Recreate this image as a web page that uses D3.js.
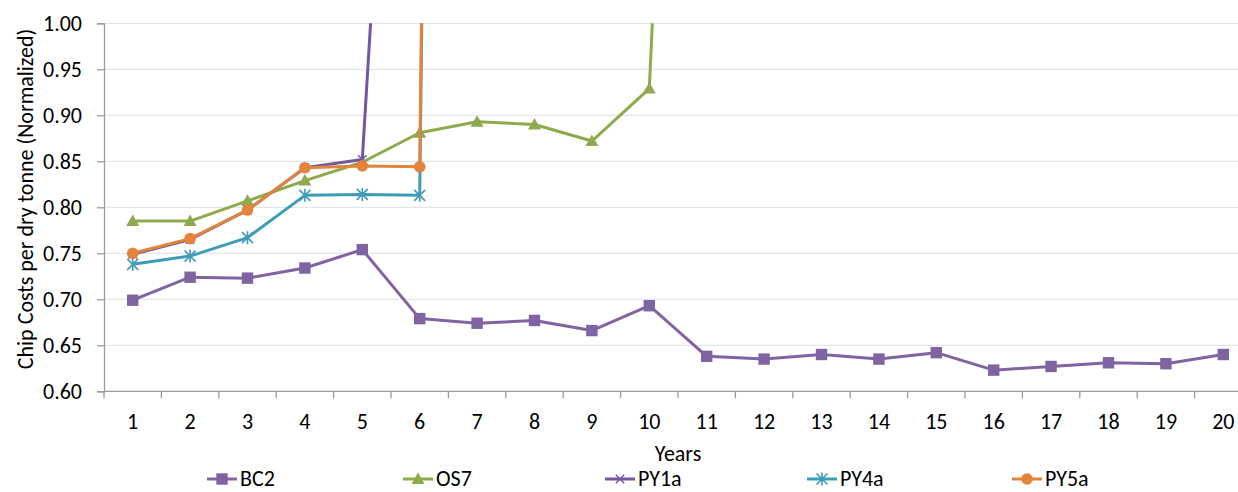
<!DOCTYPE html>
<html>
<head>
<meta charset="utf-8">
<script src="https://cdn.jsdelivr.net/npm/d3@7/dist/d3.min.js"></script>
<style>
  html, body { margin: 0; padding: 0; background: #ffffff; }
  svg { display: block; }
  text { font-family: Calibri, Carlito, "Liberation Sans", Arial, sans-serif; fill: #000; }
</style>
</head>
<body>
<svg id="chart" width="1238" height="492"></svg>
<script>
// Years on the category axis
const years = d3.range(1, 21);

// Normalized chip cost per dry tonne for each scenario (null = no value)
const bc2 = [0.699, 0.724, 0.723, 0.734, 0.754, 0.679, 0.674, 0.677, 0.666, 0.693,
             0.638, 0.635, 0.640, 0.635, 0.642, 0.623, 0.627, 0.631, 0.630, 0.640];
const os7 = [0.785, 0.785, 0.807, 0.829, 0.849, 0.881, 0.893, 0.890, 0.872, 0.929,
             2.27, null, null, null, null, null, null, null, null, null];
const py1a = [0.749, 0.765, 0.797, 0.843, 0.852, 1.88, null, null, null, null,
              null, null, null, null, null, null, null, null, null, null];
const py4a = [0.738, 0.747, 0.767, 0.813, 0.814, 0.813, 6.0, null, null, null,
              null, null, null, null, null, null, null, null, null, null];
const py5a = [0.750, 0.766, 0.797, 0.843, 0.845, 0.844, 6.1, null, null, null,
              null, null, null, null, null, null, null, null, null, null];

const yTicks = [0.60, 0.65, 0.70, 0.75, 0.80, 0.85, 0.90, 0.95, 1.00];

const seriesNames = ["BC2", "OS7", "PY1a", "PY4a", "PY5a"];
const seriesValues = [bc2, os7, py1a, py4a, py5a];
const seriesColors = ["#8064a2", "#8eaa4c", "#7357a0", "#3f9cb6", "#e2843c"];
const seriesMarkers = ["square", "triangle", "cross", "asterisk", "circle"];

const FONT = 22;

// Plot area
const plot = { left: 104, right: 1252, top: 23.3, bottom: 391.3 };

const svg = d3.select("#chart");

const x = d3.scaleBand().domain(years).range([plot.left, plot.right]).padding(0);
const y = d3.scaleLinear().domain([0.60, 1.00]).range([plot.bottom, plot.top]);
const cx = d => x(d) + x.bandwidth() / 2;

// Horizontal gridlines
svg.append("g")
  .selectAll("line")
  .data(yTicks.filter(t => t > 0.6))
  .join("line")
  .attr("x1", plot.left).attr("x2", plot.right)
  .attr("y1", d => y(d)).attr("y2", d => y(d))
  .attr("stroke", "#dfe6ee").attr("stroke-width", 1.3);

// Y axis
const yAxis = svg.append("g")
  .attr("transform", `translate(${plot.left},0)`)
  .call(d3.axisLeft(y).tickValues(yTicks).tickFormat(d3.format(".2f")).tickSize(7).tickPadding(15));
yAxis.select(".domain").attr("stroke", "#9a9a9a").attr("stroke-width", 1.3);
yAxis.selectAll(".tick line").attr("stroke", "#9a9a9a").attr("stroke-width", 1.3);
yAxis.selectAll(".tick text").attr("font-size", FONT).attr("fill", "#000")
  .attr("font-family", "Calibri, Carlito, 'Liberation Sans', Arial, sans-serif");

// X axis: tick marks sit on the category boundaries
const boundaries = years.map(d => x(d)).concat([plot.right]);
const xAxisG = svg.append("g");
xAxisG.append("line")
  .attr("x1", plot.left).attr("x2", plot.right)
  .attr("y1", plot.bottom).attr("y2", plot.bottom)
  .attr("stroke", "#9a9a9a").attr("stroke-width", 1.3);
xAxisG.selectAll("line.tk")
  .data(boundaries)
  .join("line").attr("class", "tk")
  .attr("x1", d => d).attr("x2", d => d)
  .attr("y1", plot.bottom).attr("y2", plot.bottom + 7)
  .attr("stroke", "#9a9a9a").attr("stroke-width", 1.3);
xAxisG.selectAll("text")
  .data(years)
  .join("text")
  .attr("x", d => cx(d)).attr("y", 428.5)
  .attr("text-anchor", "middle")
  .attr("font-size", FONT)
  .text(d => d);

// Axis titles
svg.append("text")
  .attr("x", (plot.left + plot.right) / 2).attr("y", 461)
  .attr("text-anchor", "middle")
  .attr("font-size", FONT)
  .text("Years");

svg.append("text")
  .attr("transform", "translate(33,199) rotate(-90)")
  .attr("text-anchor", "middle")
  .attr("font-size", FONT)
  .text("Chip Costs per dry tonne (Normalized)");

// Marker drawing
function drawMarker(g, type, color, px, py) {
  if (type === "square") {
    g.append("rect").attr("x", px - 5.7).attr("y", py - 5.7).attr("width", 11.4).attr("height", 11.4)
      .attr("fill", color);
  } else if (type === "triangle") {
    g.append("path").attr("d", `M${px},${py - 6.5}L${px + 6.5},${py + 5}L${px - 6.5},${py + 5}Z`)
      .attr("fill", color);
  } else if (type === "circle") {
    g.append("circle").attr("cx", px).attr("cy", py).attr("r", 5.8).attr("fill", color);
  } else if (type === "cross") {
    g.append("path").attr("d", `M${px - 4.2},${py - 4.2}L${px + 4.2},${py + 4.2}M${px - 4.2},${py + 4.2}L${px + 4.2},${py - 4.2}`)
      .attr("stroke", color).attr("stroke-width", 1.5).attr("fill", "none");
  } else if (type === "asterisk") {
    g.append("path").attr("d",
      `M${px - 5.5},${py - 5.5}L${px + 5.5},${py + 5.5}M${px - 5.5},${py + 5.5}L${px + 5.5},${py - 5.5}M${px},${py - 6.5}L${px},${py + 6.5}`)
      .attr("stroke", color).attr("stroke-width", 1.6).attr("fill", "none");
  }
}

// Clip to the plot area so values above the axis maximum run off the top
svg.append("defs").append("clipPath").attr("id", "plotClip")
  .append("rect")
  .attr("x", plot.left).attr("y", plot.top)
  .attr("width", plot.right - plot.left).attr("height", plot.bottom - plot.top);

const plotG = svg.append("g").attr("clip-path", "url(#plotClip)");

const line = d3.line()
  .defined(d => d.v != null)
  .x(d => cx(d.year))
  .y(d => y(d.v));

seriesNames.forEach((name, i) => {
  const pts = years.map((yr, j) => ({ year: yr, v: seriesValues[i][j] }));
  const g = plotG.append("g");
  g.append("path")
    .datum(pts)
    .attr("d", line)
    .attr("fill", "none")
    .attr("stroke", seriesColors[i])
    .attr("stroke-width", 3)
    .attr("stroke-linejoin", "round");
  pts.filter(p => p.v != null && p.v <= 1.0).forEach(p => {
    drawMarker(g, seriesMarkers[i], seriesColors[i], cx(p.year), y(p.v));
  });
});

// Legend
const legendX = [207, 403, 605, 807, 1012];
const legendY = 479;
seriesNames.forEach((name, i) => {
  const g = svg.append("g");
  const x0 = legendX[i];
  g.append("line")
    .attr("x1", x0).attr("x2", x0 + 30)
    .attr("y1", legendY).attr("y2", legendY)
    .attr("stroke", seriesColors[i]).attr("stroke-width", 3);
  drawMarker(g, seriesMarkers[i], seriesColors[i], x0 + 15, legendY);
  g.append("text")
    .attr("x", x0 + 33).attr("y", 485.5)
    .attr("font-size", FONT)
    .text(name);
});
</script>
</body>
</html>
